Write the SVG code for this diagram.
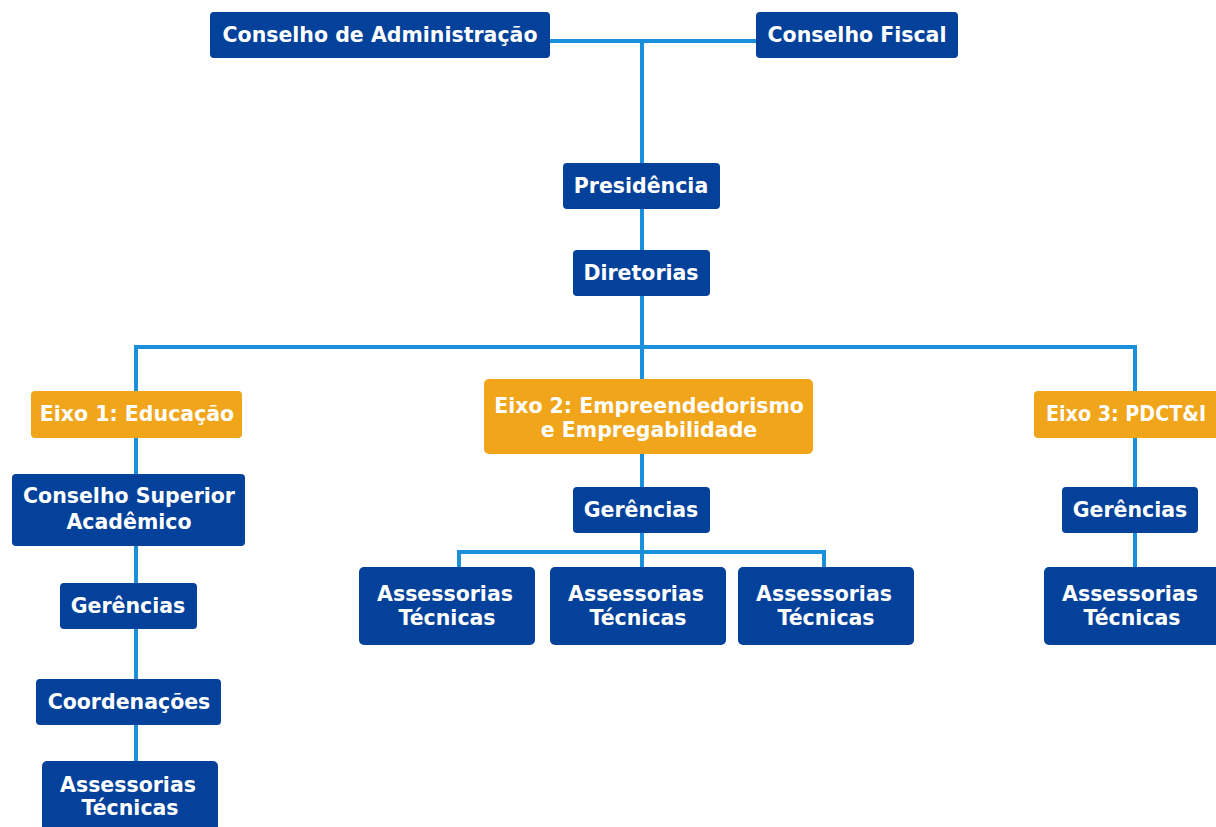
<svg xmlns="http://www.w3.org/2000/svg" width="1216" height="827" viewBox="0 0 1216 827">
<style>
.b{fill:#03419a}
.o{fill:#f0a51a}
.t{fill:#fff;font-family:"DejaVu Sans","Liberation Sans",sans-serif;font-weight:bold;font-size:20.5px;text-anchor:middle}
.c{fill:none;stroke:#1a8fdc;stroke-width:4}
</style>
<rect width="1216" height="827" fill="#fff"/>
<g id="connectors">
<path class="c" d="M550 41H756M642 41V163M642 209V250M642 296V347M136 391V347H1135V391M642 347V379"/>
<path class="c" d="M136 438V474M136 546V583M136 629V679M136 725V761"/>
<path class="c" d="M642 454V487M642 533V567M459 567V552H824V567"/>
<path class="c" d="M1135 438V487M1135 533V567"/>
</g>
<g id="n1"><rect class="b" x="210" y="12" width="340" height="46" rx="4"/><text class="t" x="380" y="42">Conselho de Administração</text></g>
<g id="n2"><rect class="b" x="756" y="12" width="202" height="46" rx="4"/><text class="t" x="857" y="42">Conselho Fiscal</text></g>
<g id="n3"><rect class="b" x="563" y="163" width="157" height="46" rx="4"/><text class="t" x="641" y="193">Presidência</text></g>
<g id="n4"><rect class="b" x="573" y="250" width="137" height="46" rx="4"/><text class="t" x="641" y="280">Diretorias</text></g>
<g id="n5"><rect class="o" x="31" y="391" width="211" height="47" rx="4"/><text class="t" x="137" y="421">Eixo 1: Educação</text></g>
<g id="n6"><rect class="o" x="484" y="379" width="329" height="75" rx="5"/><text class="t" x="649" y="413">Eixo 2: Empreendedorismo</text><text class="t" x="649" y="437">e Empregabilidade</text></g>
<g id="n7"><rect class="o" x="1034" y="391" width="190" height="47" rx="4"/><text class="t" x="1126" y="421" textLength="160" lengthAdjust="spacingAndGlyphs">Eixo 3: PDCT&amp;I</text></g>
<g id="n8"><rect class="b" x="12" y="474" width="233" height="72" rx="4"/><text class="t" x="129" y="503">Conselho Superior</text><text class="t" x="129" y="529">Acadêmico</text></g>
<g id="n9"><rect class="b" x="60" y="583" width="137" height="46" rx="4"/><text class="t" x="128" y="613">Gerências</text></g>
<g id="n10"><rect class="b" x="36" y="679" width="185" height="46" rx="4"/><text class="t" x="129" y="709">Coordenações</text></g>
<g id="n11"><rect class="b" x="42" y="761" width="176" height="80" rx="5"/><text class="t" x="128" y="792">Assessorias</text><text class="t" x="130" y="815">Técnicas</text></g>
<g id="n12"><rect class="b" x="573" y="487" width="137" height="46" rx="4"/><text class="t" x="641" y="517">Gerências</text></g>
<g id="n13"><rect class="b" x="359" y="567" width="176" height="78" rx="5"/><text class="t" x="445" y="601">Assessorias</text><text class="t" x="447" y="625">Técnicas</text></g>
<g id="n14"><rect class="b" x="550" y="567" width="176" height="78" rx="5"/><text class="t" x="636" y="601">Assessorias</text><text class="t" x="638" y="625">Técnicas</text></g>
<g id="n15"><rect class="b" x="738" y="567" width="176" height="78" rx="5"/><text class="t" x="824" y="601">Assessorias</text><text class="t" x="826" y="625">Técnicas</text></g>
<g id="n16"><rect class="b" x="1062" y="487" width="136" height="46" rx="4"/><text class="t" x="1130" y="517">Gerências</text></g>
<g id="n17"><rect class="b" x="1044" y="567" width="180" height="78" rx="5"/><text class="t" x="1130" y="601">Assessorias</text><text class="t" x="1132" y="625">Técnicas</text></g>
</svg>
